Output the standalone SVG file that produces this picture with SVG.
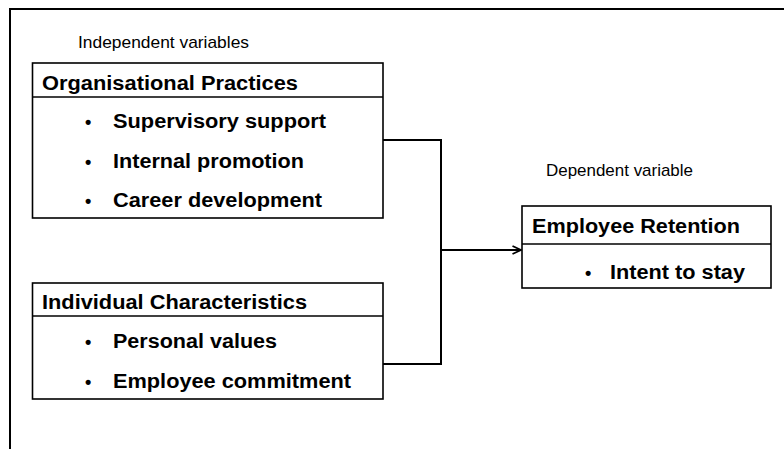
<svg xmlns="http://www.w3.org/2000/svg" width="784" height="449" viewBox="0 0 784 449">
  <defs>
    <marker id="arrow" viewBox="0 0 10 10" refX="9.5" refY="5" markerWidth="10" markerHeight="10" markerUnits="userSpaceOnUse" orient="auto">
      <path d="M1,1 L9.5,5 L1,9" fill="none" stroke="#000" stroke-width="1.8"/>
    </marker>
  </defs>
  <style>
    .frame { fill: none; stroke: #000; stroke-width: 2; }
    .box { fill: #fff; stroke: #000; stroke-width: 1.6; }
    .rule { stroke: #000; stroke-width: 1.6; }
    .conn { fill: none; stroke: #000; stroke-width: 2; }
    .cap { font-family: "Liberation Sans", Arial, sans-serif; font-size: 17px; fill: #000; }
    .head { font-family: "Liberation Sans", Arial, sans-serif; font-size: 19.5px; font-weight: bold; fill: #000; }
    .item { font-family: "Liberation Sans", Arial, sans-serif; font-size: 19.5px; font-weight: bold; fill: #000; }
    .dot { font-family: "Liberation Sans", Arial, sans-serif; font-size: 18px; font-weight: bold; fill: #000; }
  </style>

  <rect width="784" height="449" fill="#fff"/>

  <!-- outer frame: top and left edges only -->
  <path class="frame" d="M10,449 L10,9 L784,9"/>

  <text class="cap" x="78" y="48" textLength="171" lengthAdjust="spacingAndGlyphs">Independent  variables</text>
  <text class="cap" x="546" y="176" textLength="147" lengthAdjust="spacingAndGlyphs">Dependent variable</text>

  <!-- connectors -->
  <g id="connectors">
    <path class="conn" d="M383,140 L441,140 L441,364 L383,364"/>
    <path class="conn" d="M441,250 L521,250" marker-end="url(#arrow)"/>
  </g>

  <g id="organisational-practices">
    <rect class="box" x="32.5" y="63" width="350.5" height="155"/>
    <line class="rule" x1="32.5" y1="97" x2="383" y2="97"/>
    <text class="head" x="42" y="90" textLength="256" lengthAdjust="spacingAndGlyphs">Organisational Practices</text>
    <text class="dot" x="85" y="128">•</text>
    <text class="item" x="113" y="128" textLength="213" lengthAdjust="spacingAndGlyphs">Supervisory support</text>
    <text class="dot" x="85" y="168">•</text>
    <text class="item" x="113" y="168" textLength="191" lengthAdjust="spacingAndGlyphs">Internal promotion</text>
    <text class="dot" x="85" y="207">•</text>
    <text class="item" x="113" y="207" textLength="209" lengthAdjust="spacingAndGlyphs">Career development</text>
  </g>

  <g id="individual-characteristics">
    <rect class="box" x="32.5" y="283" width="350.5" height="116"/>
    <line class="rule" x1="32.5" y1="316" x2="383" y2="316"/>
    <text class="head" x="42" y="309" textLength="265" lengthAdjust="spacingAndGlyphs">Individual Characteristics</text>
    <text class="dot" x="85" y="348">•</text>
    <text class="item" x="113" y="348" textLength="164" lengthAdjust="spacingAndGlyphs">Personal values</text>
    <text class="dot" x="85" y="388">•</text>
    <text class="item" x="113" y="388" textLength="238" lengthAdjust="spacingAndGlyphs">Employee commitment</text>
  </g>

  <g id="employee-retention">
    <rect class="box" x="522" y="206" width="249" height="82"/>
    <line class="rule" x1="522" y1="244" x2="771" y2="244"/>
    <text class="head" x="532" y="233" textLength="208" lengthAdjust="spacingAndGlyphs">Employee Retention</text>
    <text class="dot" x="585" y="279">•</text>
    <text class="item" x="610" y="279" textLength="135" lengthAdjust="spacingAndGlyphs">Intent to stay</text>
  </g>
</svg>
